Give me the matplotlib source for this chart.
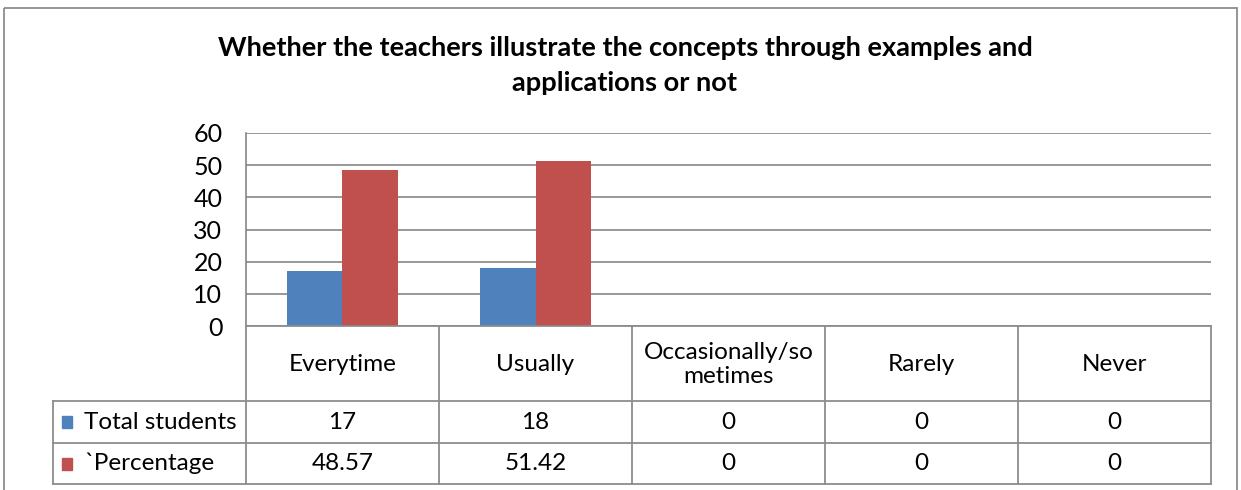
import matplotlib
matplotlib.use("Agg")
import matplotlib.pyplot as plt
from matplotlib.patches import Rectangle
from matplotlib.lines import Line2D

categories = ["Everytime", "Usually", "Occasionally/so\nmetimes", "Rarely", "Never"]
series_names = ["Total students", "`Percentage"]
total_students = [17, 18, 0, 0, 0]
percentage = [48.57, 51.42, 0, 0, 0]
total_labels = ["17", "18", "0", "0", "0"]
percentage_labels = ["48.57", "51.42", "0", "0", "0"]
yticks = [0, 10, 20, 30, 40, 50, 60]
title = "Whether the teachers illustrate the concepts through examples and\napplications or not"

BLUE = "#4F81BD"
RED = "#C0504D"
GRID = "#868686"
FONT = "Lato"

W, H = 1241, 490
fig = plt.figure(figsize=(W / 100, H / 100), dpi=100)

def fx(px):
    return px / W

def fy(py):
    return 1 - py / H

# plot area in pixels
L, R, T, B = 246, 1211, 133, 326
ax = fig.add_axes([fx(L), fy(B), fx(R) - fx(L), fy(T) - fy(B)])
n = len(categories)
ax.set_xlim(0, n)
ax.set_ylim(0, 60)
bw = 0.285
xs = [i + 0.5 for i in range(n)]
ax.bar([x - bw / 2 for x in xs], total_students, width=bw, color=BLUE, zorder=3)
ax.bar([x + bw / 2 for x in xs], percentage, width=bw, color=RED, zorder=3)
ax.set_yticks(yticks)
ax.set_yticklabels([str(t) for t in yticks], fontsize=18, family=FONT)
ax.tick_params(axis="y", length=0, pad=17)
ax.set_xticks([])
ax.yaxis.grid(True, color=GRID, linewidth=1.2, zorder=0)
for s in ["top", "right", "bottom"]:
    ax.spines[s].set_visible(False)
ax.spines["left"].set_color(GRID)
ax.spines["left"].set_linewidth(1.2)

# table
tax = fig.add_axes([0, 0, 1, 1], facecolor="none")
tax.set_xlim(0, W)
tax.set_ylim(H, 0)
tax.axis("off")
col_edges = [L + i * (R - L) / n for i in range(n + 1)]
TL = 53
r0, r1, r2, r3 = 326, 401, 443, 484
lc = "#8C8C8C"
lw = 1.3
tax.add_line(Line2D([L, R], [r0, r0], color=lc, lw=lw))
for yy in (r1, r2, r3):
    tax.add_line(Line2D([TL, R], [yy, yy], color=lc, lw=lw))
for xx in col_edges:
    tax.add_line(Line2D([xx, xx], [r0, r3], color=lc, lw=lw))
tax.add_line(Line2D([TL, TL], [r1, r3], color=lc, lw=lw))

FS = 17.5
for i, c in enumerate(categories):
    cx = (col_edges[i] + col_edges[i + 1]) / 2
    tax.text(cx, (r0 + r1) / 2 + 1, c, ha="center", va="center", fontsize=FS,
             family=FONT, linespacing=1.22)
    tax.text(cx, (r1 + r2) / 2, total_labels[i], ha="center", va="center",
             fontsize=FS, family=FONT)
    tax.text(cx, (r2 + r3) / 2, percentage_labels[i], ha="center", va="center",
             fontsize=FS, family=FONT)

for (ya, yb), name, col in [((r1, r2), series_names[0], BLUE), ((r2, r3), series_names[1], RED)]:
    cy = (ya + yb) / 2
    tax.add_patch(Rectangle((62, cy - 6), 10, 12, color=col))
    tax.text(84, cy, name, ha="left", va="center", fontsize=FS, family=FONT)

# title
tl = title.split("\n")
tax.text(625, 48, tl[0], ha="center", va="center", fontsize=19.6,
         fontweight="bold", family=FONT)
tax.text(625, 83, tl[1], ha="center", va="center", fontsize=19.6,
         fontweight="bold", family=FONT)

# outer border
tax.add_patch(Rectangle((4, 8), 1233, 500, fill=False, edgecolor="#8C8C8C", lw=1.3))

fig.savefig("out.png", dpi=100)
